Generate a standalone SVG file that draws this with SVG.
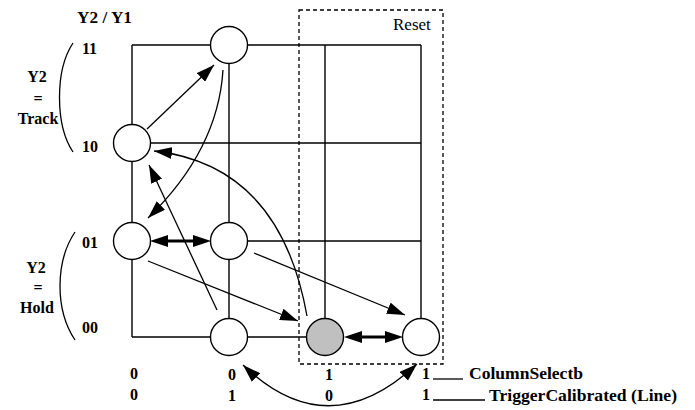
<svg xmlns="http://www.w3.org/2000/svg" width="695" height="410" viewBox="0 0 695 410">
  <style>
    .ln { stroke: #000; stroke-width: 1.4; fill: none; }
    .cn { stroke: #000; stroke-width: 1.3; fill: none; }
    .thick { stroke: #000; stroke-width: 3; fill: none; }
    .node { stroke: #000; stroke-width: 1.4; fill: #fff; }
    .gray { fill: #c0c0c0; }
    .lbl { font-family: "Liberation Serif", "Times New Roman", serif; font-weight: bold; font-size: 16px; fill: #000; }
    .mid { text-anchor: middle; }
    .reset { font-family: "Liberation Serif", "Times New Roman", serif; font-size: 17px; fill: #000; }
    .dash { stroke: #000; stroke-width: 1.3; fill: none; stroke-dasharray: 4 3; }
  </style>
  <defs>
    <marker id="ah" markerUnits="userSpaceOnUse" viewBox="0 0 18 12" markerWidth="18" markerHeight="12" refX="18" refY="6" orient="auto-start-reverse">
      <path d="M0,0 L18,6 L0,12 z" fill="#000"/>
    </marker>
    <marker id="ahb" markerUnits="userSpaceOnUse" viewBox="0 0 18 12" markerWidth="18" markerHeight="12" refX="8" refY="6" orient="auto-start-reverse">
      <path d="M0,0 L18,6 L0,12 z" fill="#000"/>
    </marker>
  </defs>

  <rect width="695" height="410" fill="#fff"/>

  <!-- grid -->
  <g id="grid">
    <line class="ln" x1="132" y1="45" x2="421" y2="45"/>
    <line class="ln" x1="132" y1="143" x2="421" y2="143"/>
    <line class="ln" x1="229" y1="241" x2="421" y2="241"/>
    <line class="ln" x1="132" y1="337" x2="325" y2="337"/>
    <line class="ln" x1="132" y1="45" x2="132" y2="337"/>
    <line class="ln" x1="229" y1="45" x2="229" y2="337"/>
    <line class="ln" x1="325" y1="45" x2="325" y2="337"/>
    <line class="ln" x1="421" y1="45" x2="421" y2="337"/>
  </g>

  <!-- Reset region -->
  <g id="reset">
    <rect class="dash" x="299" y="10" width="144" height="354"/>
    <text class="reset" x="393" y="30">Reset</text>
  </g>

  <!-- nodes -->
  <g id="n11_01"><circle class="node" cx="229" cy="45" r="18.5"/></g>
  <g id="n10_00"><circle class="node" cx="132" cy="143" r="18.5"/></g>
  <g id="n01_00"><circle class="node" cx="132" cy="241" r="18.5"/></g>
  <g id="n01_01"><circle class="node" cx="229" cy="241" r="18.5"/></g>
  <g id="n00_01"><circle class="node" cx="229" cy="337" r="18.5"/></g>
  <g id="n00_10"><circle class="node gray" cx="325" cy="337" r="18.5"/></g>
  <g id="n00_11"><circle class="node" cx="421" cy="337" r="18.5"/></g>

  <!-- connectors -->
  <g id="connectors">
    <line class="cn" x1="147" y1="129" x2="214" y2="65" marker-end="url(#ah)"/>
    <path class="cn" d="M223,70 Q218,150 148,218" marker-end="url(#ah)"/>
    <line class="cn" x1="217" y1="310" x2="149" y2="165" marker-end="url(#ah)"/>
    <path class="cn" d="M307,316 Q280,165 154,151" marker-end="url(#ah)"/>
    <line class="thick" x1="160" y1="241" x2="201" y2="241" marker-start="url(#ahb)" marker-end="url(#ahb)"/>
    <line class="cn" x1="148" y1="261" x2="298" y2="321" marker-end="url(#ah)"/>
    <line class="cn" x1="254" y1="253" x2="405" y2="315" marker-end="url(#ah)"/>
    <line class="thick" x1="354" y1="337" x2="393" y2="337" marker-start="url(#ahb)" marker-end="url(#ahb)"/>
    <path class="cn" d="M243,365 Q328,447 417,364" marker-start="url(#ah)" marker-end="url(#ah)"/>
  </g>

  <!-- axis labels -->
  <g id="labels">
    <text class="lbl" x="77" y="23" textLength="55" lengthAdjust="spacingAndGlyphs">Y2 / Y1</text>
    <text class="lbl" x="82" y="54">11</text>
    <text class="lbl" x="82" y="152">10</text>
    <text class="lbl" x="82" y="248">01</text>
    <text class="lbl" x="82" y="333">00</text>

    <path class="cn" d="M73,43 C55,70 55,125 73,152"/>
    <text class="lbl mid" x="37" y="82">Y2</text>
    <text class="lbl mid" x="38" y="104">=</text>
    <text class="lbl mid" x="38" y="124">Track</text>

    <path class="cn" d="M75,232 C55,262 55,310 75,340"/>
    <text class="lbl mid" x="36" y="273">Y2</text>
    <text class="lbl mid" x="38" y="293">=</text>
    <text class="lbl mid" x="37" y="313">Hold</text>

    <text class="lbl mid" x="134" y="379">0</text>
    <text class="lbl mid" x="134" y="400">0</text>
    <text class="lbl mid" x="232" y="380">0</text>
    <text class="lbl mid" x="232" y="401">1</text>
    <text class="lbl mid" x="329" y="380">1</text>
    <text class="lbl mid" x="329" y="401">0</text>
    <text class="lbl mid" x="426" y="379">1</text>
    <text class="lbl mid" x="426" y="400">1</text>

    <line class="cn" x1="433" y1="379" x2="463" y2="379"/>
    <text class="lbl" x="469" y="379" textLength="114" lengthAdjust="spacingAndGlyphs">ColumnSelectb</text>
    <line class="cn" x1="433" y1="400" x2="485" y2="400"/>
    <text class="lbl" x="489" y="401" textLength="188" lengthAdjust="spacingAndGlyphs">TriggerCalibrated (Line)</text>
  </g>
</svg>
